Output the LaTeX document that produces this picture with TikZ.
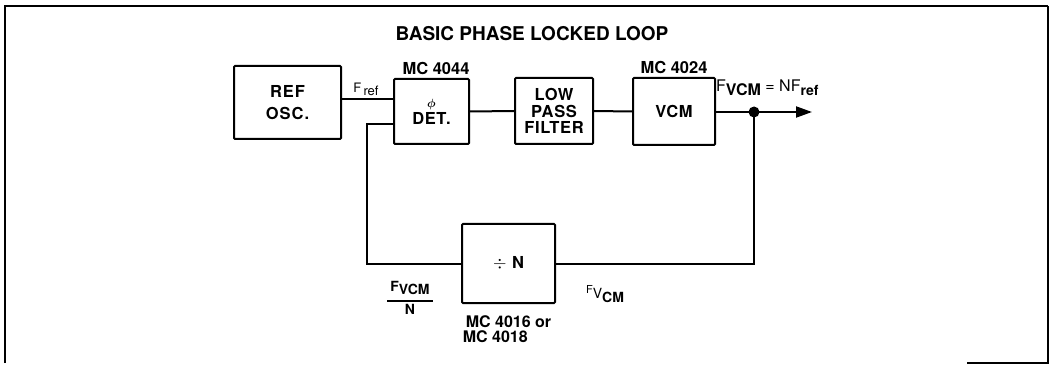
\documentclass[tikz,border=0pt]{standalone}
\usepackage{fontspec}
\setmainfont{TeX Gyre Heros}
\usetikzlibrary{arrows.meta,calc}
\begin{document}
\begin{tikzpicture}[x=1pt,y=-1pt,
  blk/.style={draw,line width=2pt,rounded corners=1pt,inner sep=0pt,align=center,font=\fontsize{16.5}{16.8}\selectfont\bfseries\addfontfeature{LetterSpace=4}},
  wire/.style={line width=2pt},
  lbl/.style={inner sep=0pt,font=\fontsize{16.5}{17}\selectfont\bfseries},
  sig/.style={inner sep=0pt,font=\fontsize{13}{15}\selectfont}
]
\useasboundingbox (0,0) rectangle (1052,366);
% frame
\draw[line width=2pt] (5,363) -- (5,6) -- (1048,6);
\draw[line width=1.2pt] (1048,6) -- (1048,363) -- (967,363);
% title
\node[inner sep=0pt,font=\fontsize{19}{21}\selectfont\bfseries] (title) at (532,34) {BASIC PHASE LOCKED LOOP};
% blocks
\node[blk,minimum width=107pt,minimum height=73pt,font=\fontsize{16.5}{22}\selectfont\bfseries\addfontfeature{LetterSpace=6}] (ref) at (287.5,102.5) {REF\\OSC.};
\node[blk,minimum width=75pt,minimum height=65pt] (det) at (431.5,111.5) {{\fontsize{12}{12}\selectfont\boldmath$\phi$}\\[0pt]DET.};
\node[blk,minimum width=78pt,minimum height=66pt] (lpf) at (554,111) {LOW\\PASS\\FILTER};
\node[blk,minimum width=82pt,minimum height=67pt] (vcm) at (674,111.5) {VCM};
\node[blk,minimum width=93pt,minimum height=79pt] (div) at (508.5,263.5) {{\fontsize{19}{19}\selectfont$\div$}\,\,N};
% part labels
\node[lbl] (mc4044) at (436,68) {MC 4044};
\node[lbl] (mc4024) at (674,67) {MC 4024};
\node[lbl,align=left,font=\fontsize{16}{14.5}\selectfont\bfseries] (mc4016) at (507,329) {\hspace*{3pt}MC 4016 or\\MC 4018};
% coordinates
\coordinate (refin) at (det.west |- 0,99);
\coordinate (fbin) at (det.west |- 0,124);
\coordinate (fbc) at (367,124);
\coordinate (j) at (754,112);
\coordinate (out) at (812,112);
% wires
\draw[wire] (ref.east |- refin) -- (refin);
\draw[wire] (det.east) -- (lpf.west);
\draw[wire] (lpf.east) -- (vcm.west);
\draw[wire,-{Triangle[length=16pt,width=11pt]}] (vcm.east |- j) -- (out);
\fill (j) circle (5.5pt);
\draw[wire] (j) |- (div.east);
\draw[wire] (div.west) -| (fbc) -- (fbin);
% signal labels
\node[sig] (fref) at (366,89) {\fontsize{13}{13}\selectfont F\,\raisebox{-3pt}{\fontsize{13}{13}\selectfont ref}};
\node[sig,anchor=west] (fvcmout) at (716,88) {\fontsize{16}{16}\selectfont F\raisebox{-4pt}{\bfseries VCM} = NF\raisebox{-4pt}{\fontsize{14}{14}\selectfont\bfseries ref}};
\node[sig,align=center,font=\fontsize{14}{15}\selectfont\bfseries] (fvcmn) at (410,298) {F\raisebox{-3pt}{VCM}\\[-5pt]\rule{46pt}{1.8pt}\\[-2pt]N};
\node[sig] (fvcm) at (605,294) {\fontsize{11}{11}\selectfont F\raisebox{-5pt}{\fontsize{14}{14}\selectfont V\raisebox{-4pt}{\bfseries CM}}};
\end{tikzpicture}
\end{document}
